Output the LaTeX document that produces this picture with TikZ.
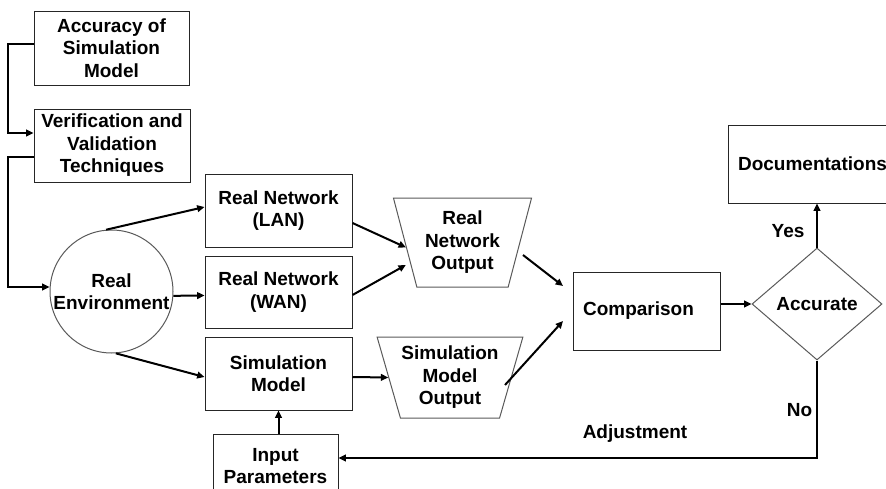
\documentclass[tikz,border=0pt]{standalone}
\usepackage{fontspec}
\setmainfont{Liberation Sans}
\usetikzlibrary{shapes.geometric,arrows.meta,calc}
\begin{document}
\begin{tikzpicture}[x=0.75pt,y=-0.75pt,
  every node/.style={font=\fontsize{14.25}{16.9}\selectfont\bfseries, align=center, inner sep=0pt},
  box/.style={draw=black!85, line width=0.75pt, rectangle},
  shp/.style={draw=black!65, line width=0.75pt},
  outbox/.style={trapezium, shp, shape border rotate=180, trapezium stretches=true},
  conn/.style={line width=1.5pt, -{Triangle[length=5.5pt,width=5pt]}}
]
\useasboundingbox (0,0) rectangle (886,489);
\clip (0,0) rectangle (886,489);

% left column: model accuracy and V&V
\node[box, minimum width=116.25pt, minimum height=55.5pt] (accbox) at (111.5,48) {Accuracy of\\Simulation\\Model};
\node[box, minimum width=117pt, minimum height=54.75pt] (verbox) at (112,145.5) {Verification and\\Validation\\Techniques};
\node[circle, shp, minimum size=92.25pt] (env) at (111.5,291.5) {\makebox[0pt]{Real}\\\makebox[0pt]{Environment}};

% networks and simulation
\node[box, minimum width=110.25pt, minimum height=54.75pt] (lan) at (278.5,210.5) {Real Network\\(LAN)};
\node[box, minimum width=110.25pt, minimum height=54pt] (wan) at (278.5,292) {Real Network\\(WAN)};
\node[box, minimum width=110.25pt, minimum height=54.75pt] (sim) at (278.5,373.5) {Simulation\\Model};
\node[box, minimum width=93.75pt, minimum height=48pt] (inp) at (275.5,466) {Input\\Parameters};

% outputs
\node[outbox, trapezium angle=73, minimum width=104.25pt, minimum height=66.75pt] (rno) at (462.5,242.5) {Real\\Network\\Output};
\node[outbox, trapezium angle=70, minimum width=109.5pt, minimum height=60.75pt] (smo) at (450,377.5) {Simulation\\Model\\Output};

% comparison and decision
\node[box, minimum width=110.25pt, minimum height=58.5pt] (cmp) at (646.5,311) {Comparison\hspace*{12pt}};
\node[diamond, shp, minimum width=97.5pt, minimum height=84pt] (dec) at (817,304) {Accurate};
\node[box, minimum width=126.75pt, minimum height=58.5pt] (doc) at (812.5,164) {Documentations};

% edge labels
\node (yes) at (788,231) {Yes};
\node (no) at (799.5,410) {No};
\node (adj) at (635,434) {Adjustment};

% connectors
\draw[conn] ($(accbox.west)+(0,-4.5)$) -- ++(-26,0) |- ($(verbox.west)+(0,-12.5)$);
\draw[conn] ($(verbox.west)+(0,11.5)$) -- ++(-26,0) |- ($(env.west)+(0,-4.5)$);
\draw[conn] (env.95) -- ($(lan.west)+(0,-3.5)$);
\draw[conn] (env.-4) -- ($(wan.west)+(0,3.5)$);
\draw[conn] (env.-86) -- ($(sim.west)+(0,3.5)$);
\draw[conn] ($(lan.east)+(0,12.5)$) -- (rno.185);
\draw[conn, shorten >=3.5pt] ($(wan.east)+(0,3)$) -- (rno.201.5);
\draw[conn] ($(sim.east)+(0,3.5)$) -- (smo.180);
\draw[conn] ($(rno.center)+(60.5,12.5)$) -- ($(cmp.center)+(-83.5,-25)$);
\draw[conn] ($(smo.center)+(55,7.5)$) -- ($(cmp.center)+(-83.5,10)$);
\draw[conn] (dec.west -| cmp.east) -- (dec.west);
\draw[conn] (dec.north) -- (dec.north |- doc.south);
\draw[conn] (dec.south) |- ($(inp.east)+(0,-8)$);
\draw[conn] (sim.south |- inp.north) -- (sim.south);
\end{tikzpicture}
\end{document}
